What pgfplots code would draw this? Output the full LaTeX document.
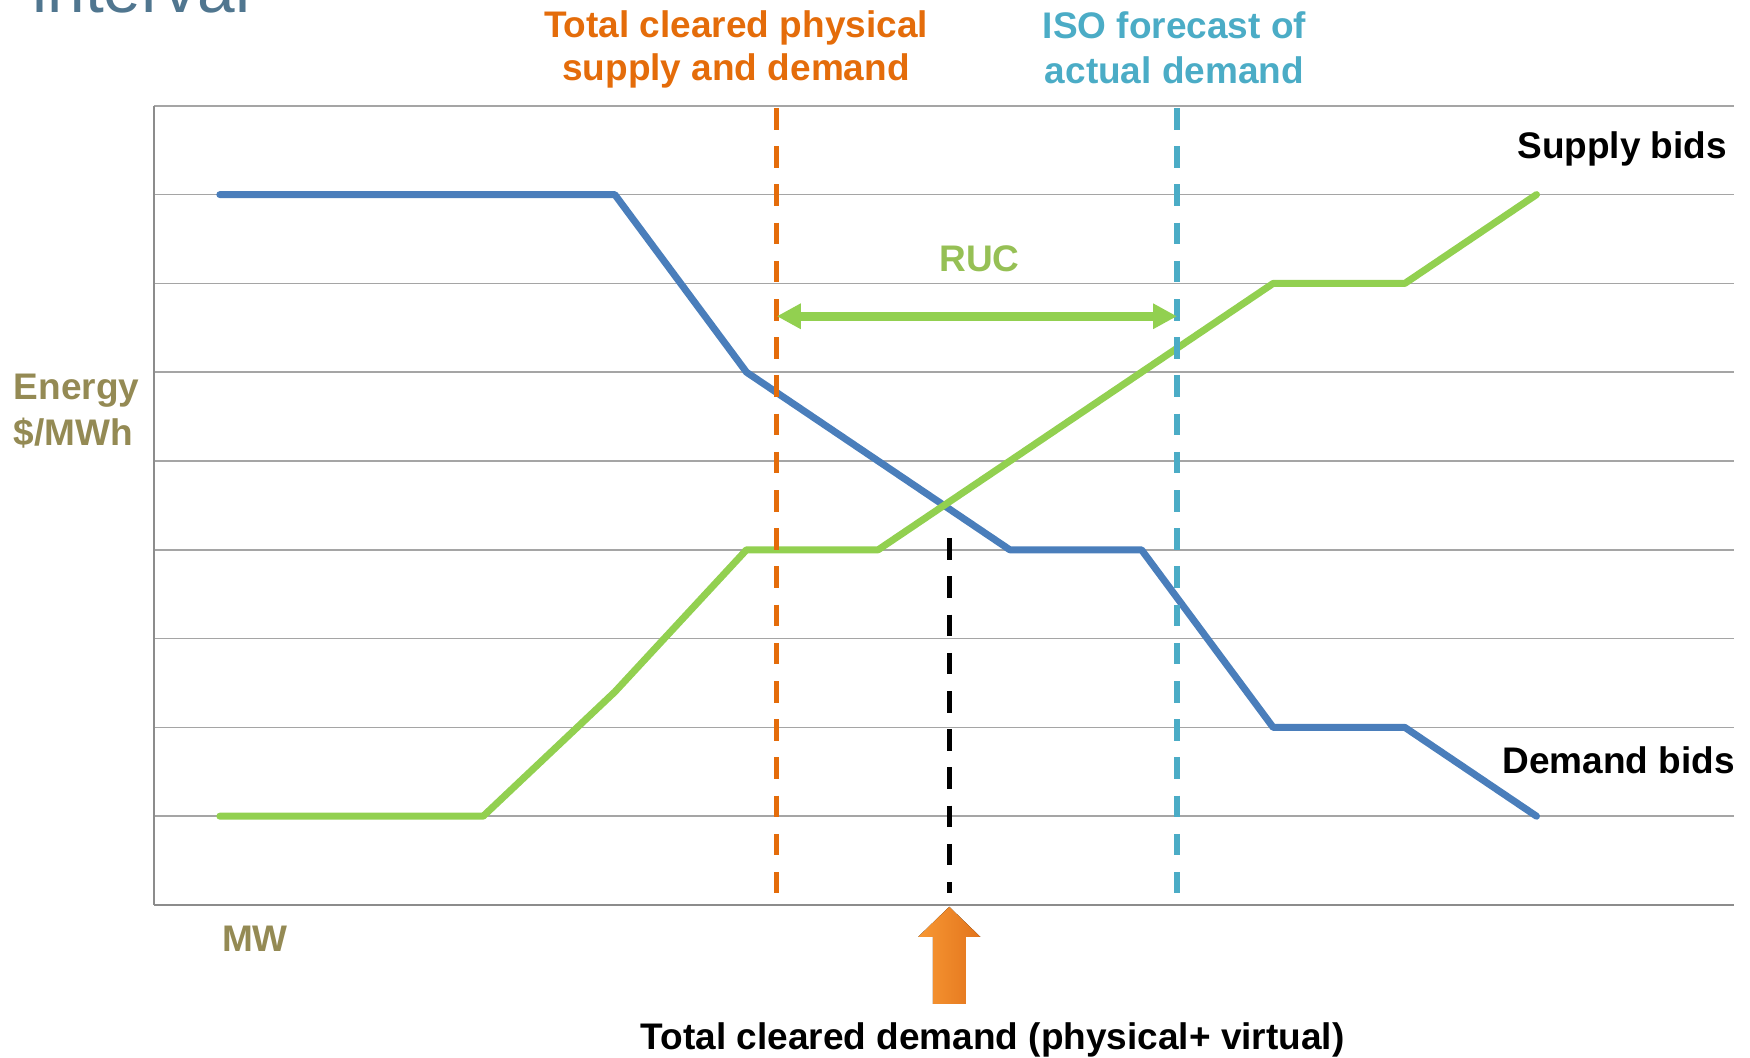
\documentclass[border=0pt]{standalone}
\usepackage{fontspec}
\setmainfont{Liberation Sans}
\usepackage{pgfplots}
\pgfplotsset{compat=1.18}
\usetikzlibrary{arrows.meta}

\definecolor{demandblue}{RGB}{74,126,187}
\definecolor{supplygreen}{RGB}{146,208,80}
\definecolor{rucgreen}{RGB}{150,192,85}
\definecolor{clearorange}{RGB}{228,108,10}
\definecolor{forecastcyan}{RGB}{75,172,198}
\definecolor{olive}{RGB}{148,138,84}
\definecolor{slate}{RGB}{80,118,143}
\definecolor{gridgray}{RGB}{165,165,165}
\definecolor{axisgray}{RGB}{140,140,140}

\newcommand{\lbl}{\fontsize{18.5}{21.8}\selectfont\bfseries}

\begin{document}
\begin{tikzpicture}
\begin{axis}[
  scale only axis,
  width=790pt, height=399.6pt,
  xmin=0, xmax=12, ymin=0, ymax=9,
  axis lines=left,
  axis line style={-, draw=axisgray, line width=1pt},
  xtick=\empty,
  ytick={1,...,9}, yticklabels={},
  major tick length=0pt,
  ymajorgrids,
  grid style={draw=gridgray, line width=0.8pt},
  clip=false,
]
% demand bids
\addplot[demandblue, line width=3.5pt, line join=round, line cap=round]
  coordinates {(0.5,8) (3.5,8) (4.5,6) (6.5,4) (7.5,4) (8.5,2) (9.5,2) (10.5,1)};
% supply bids
\addplot[supplygreen, line width=3.5pt, line join=round, line cap=round]
  coordinates {(0.5,1) (2.5,1) (3.5,2.4) (4.5,4) (5.5,4) (8.5,7) (9.5,7) (10.5,8)};

% cleared physical supply and demand
\addplot[clearorange, line width=2.7pt, dash pattern=on 10.8pt off 8.3pt]
  coordinates {(4.73,8.975) (4.73,0.135)};
% ISO forecast of actual demand
\addplot[forecastcyan, line width=2.7pt, dash pattern=on 10.8pt off 8.3pt]
  coordinates {(7.77,8.975) (7.77,0.135)};
% total cleared demand
\addplot[black, line width=2.7pt, dash pattern=on 10.8pt off 8.3pt]
  coordinates {(6.04,4.13) (6.04,0.135)};

% RUC span
\draw[supplygreen, line width=4.5pt,
  {Triangle[length=12pt,width=12pt]}-{Triangle[length=12pt,width=12pt]}]
  (axis cs:4.73,6.63) -- (axis cs:7.77,6.63);
\node[text=rucgreen, font=\lbl, anchor=center] at (axis cs:6.27,7.28) {RUC};

% block arrow under the cleared demand
\fill[left color={rgb,255:red,248;green,152;blue,52}, right color={rgb,255:red,226;green,116;blue,28}]
  (axis cs:6.04,-0.02) -- ++(15.5pt,-15pt) -- ++(-7.25pt,0pt) -- ++(0pt,-33.5pt)
  -- ++(-16.5pt,0pt) -- ++(0pt,33.5pt) -- ++(-7.25pt,0pt) -- cycle;

% labels
\node[text=clearorange, font=\lbl, anchor=base] at (axis cs:4.42,9.77) {Total cleared physical};
\node[text=clearorange, font=\lbl, anchor=base] at (axis cs:4.42,9.28) {supply and demand};
\node[text=forecastcyan, font=\lbl, anchor=base] at (axis cs:7.75,9.755) {ISO forecast of};
\node[text=forecastcyan, font=\lbl, anchor=base] at (axis cs:7.75,9.253) {actual demand};
\node[font=\lbl, anchor=base east, inner sep=0pt] at (axis cs:11.95,8.41) {Supply bids};
\node[font=\lbl, anchor=base east, inner sep=0pt] at (axis cs:12.01,1.483) {Demand bids};
\node[text=olive, font=\lbl, anchor=base west, inner sep=0pt] at (axis cs:-1.068,5.69) {Energy};
\node[text=olive, font=\lbl, anchor=base west, inner sep=0pt] at (axis cs:-1.068,5.18) {\$/MWh};
\node[text=olive, font=\lbl, anchor=base] at (axis cs:0.767,-0.526) {MW};
\node[font=\lbl, anchor=base] at (axis cs:6.37,-1.625) {Total cleared demand (physical+ virtual)};
\node[text=slate, font=\fontsize{33.8}{40}\selectfont, anchor=base west, inner sep=0pt]
  at (axis cs:-0.926,10.05) {interval};
\end{axis}
\pgfresetboundingbox
\useasboundingbox (-77pt,-76.5pt) rectangle (798pt,452.5pt);
\end{tikzpicture}
\end{document}
